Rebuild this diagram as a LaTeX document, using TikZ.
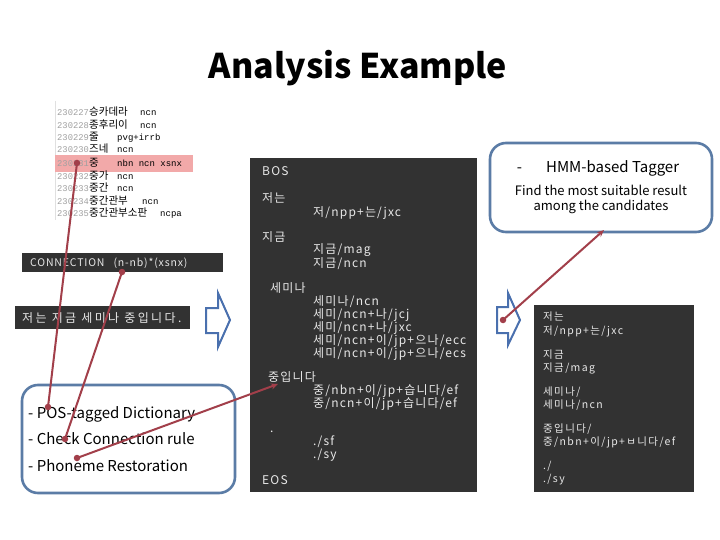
\documentclass[tikz,border=0pt]{standalone}
\usepackage{fontspec}
\setmainfont{Noto Sans CJK KR}
\newfontfamily\monofont{Liberation Mono}
\newfontfamily\widefont[LetterSpace=10]{Noto Sans CJK KR}
\newfontfamily\widerfont[LetterSpace=13]{Noto Sans CJK KR}
\newfontfamily\connfont[LetterSpace=8]{Noto Sans CJK KR}
\newfontfamily\sentfont[LetterSpace=20]{Noto Sans CJK KR}
\usetikzlibrary{arrows.meta}
\definecolor{darkbg}{HTML}{323232}
\definecolor{boxblue}{HTML}{5B7CA6}
\definecolor{arrowblue}{HTML}{4A70AE}
\definecolor{linkred}{HTML}{A23F4A}
\definecolor{hl}{HTML}{F2A9A9}
\definecolor{numgrey}{HTML}{A0A0A0}
\definecolor{codetext}{HTML}{E8E8E8}
\tikzset{
  darkpanel/.style={fill=darkbg, draw=none},
  code/.style={text=codetext, anchor=base west, inner sep=0pt, font=\widefont\fontsize{12}{13}\selectfont},
  codesm/.style={text=codetext, anchor=base west, inner sep=0pt, font=\widerfont\fontsize{10.5}{12}\selectfont},
  dnum/.style={text=numgrey, anchor=base west, inner sep=0pt, font=\monofont\fontsize{8.8}{10}\selectfont},
  dword/.style={text=black, anchor=base west, inner sep=0pt, font=\fontsize{10.5}{11}\selectfont},
  dtag/.style={text=black, anchor=base west, inner sep=0pt, font=\monofont\fontsize{9}{10}\selectfont},
  roundbox/.style={draw=boxblue, line width=2.6pt, rounded corners=16pt, fill=white},
  hollowarrow/.style={draw=arrowblue, line width=2pt, fill=white, line join=miter},
  link/.style={draw=linkred, line width=2pt},
  dot/.style={circle, fill=linkred, inner sep=0pt, minimum size=6.5pt},
  lbl/.style={anchor=base west, inner sep=0pt, font=\fontsize{15}{18}\selectfont},
}
\begin{document}
\begin{tikzpicture}[x=1pt,y=-1pt]
\useasboundingbox (0,0) rectangle (720,540);
\fill[white] (0,0) rectangle (720,540);

% title
\node[font=\bfseries\fontsize{34}{40}\selectfont, inner sep=0pt] (title) at (358,68) {Analysis Example};

% dictionary snippet
\draw[draw=black!12, line width=0.8pt] (55,101) -- (55,220);
\fill[hl] (55,155) rectangle (193,172);
\foreach \n/\w/\t/\tx/\y [count=\i] in {
  230227/승카데라/ncn/140/116,
  230228/종후리이/ncn/140/129,
  230229/줄/pvg+irrb/117/141,
  230230/즈네/ncn/117/153,
  230231/중/nbn ncn xsnx/117/167,
  230232/중가/ncn/117/180,
  230233/중간/ncn/117/192,
  230234/중간관부/ncn/142/205,
  230235/중간관부소판/ncpa/160/217}{
  \node[dnum] (dn\i) at (57,\y) {\n};
  \node[dword] (dw\i) at (89,\y) {\w};
  \node[dtag] (dt\i) at (\tx,\y) {\t};
}

% connection bar
\fill[darkpanel] (22,253) rectangle (223,272);
\node[text=codetext, anchor=base west, inner sep=0pt, font=\connfont\fontsize{10.5}{12}\selectfont] (conn) at (30,266.5) {CONNECTION\hspace{9pt}(n-nb)*(xsnx)};

% sentence bar
\fill[darkpanel] (15,306) rectangle (190,329);
\node[text=codetext, anchor=base west, inner sep=0pt, font=\sentfont\fontsize{12}{14}\selectfont] (sent) at (22,322) {저는 지금 세미나 중입니다.};

% hollow arrows
\draw[hollowarrow] (206,308) -- (218,308) -- (218,293) -- (230,320) -- (218,347) -- (218,333) -- (206,333) -- cycle;
\draw[hollowarrow] (497,307) -- (508,307) -- (508,293) -- (520,320) -- (508,345) -- (508,333) -- (497,333) -- cycle;

% middle panel
\fill[darkpanel] (250,158) rectangle (477,492);
\node[code] (m1) at (262,176) {BOS};
\node[code] (m2) at (262,203) {저는};
\node[code] (m3) at (313,216) {저/npp+는/jxc};
\node[code] (m4) at (262,241) {지금};
\node[code] (m5) at (313,254) {지금/mag};
\node[code] (m6) at (313,267) {지금/ncn};
\node[code] (m7) at (270,292) {세미나};
\node[code] (m8) at (313,305) {세미나/ncn};
\node[code] (m9) at (313,318) {세미/ncn+나/jcj};
\node[code] (m10) at (313,331) {세미/ncn+나/jxc};
\node[code] (m11) at (313,344) {세미/ncn+이/jp+으나/ecc};
\node[code] (m12) at (313,357) {세미/ncn+이/jp+으나/ecs};
\node[code] (m13) at (268,381) {중입니다};
\node[code] (m14) at (313,394) {중/nbn+이/jp+습니다/ef};
\node[code] (m15) at (313,407) {중/ncn+이/jp+습니다/ef};
\node[code] (m16) at (270,432) {.};
\node[code] (m17) at (313,445) {./sf};
\node[code] (m18) at (313,458) {./sy};
\node[code] (m19) at (262,484) {EOS};

% right panel
\fill[darkpanel] (534,305) rectangle (694,492);
\node[codesm] (r1) at (543,320) {저는};
\node[codesm] (r2) at (543,334) {저/npp+는/jxc};
\node[codesm] (r3) at (543,358) {지금};
\node[codesm] (r4) at (543,371) {지금/mag};
\node[codesm] (r5) at (543,395) {세미나/};
\node[codesm] (r6) at (543,408) {세미나/ncn};
\node[codesm] (r7) at (543,432) {중입니다/};
\node[codesm] (r8) at (543,445) {중/nbn+이/jp+ㅂ니다/ef};
\node[codesm] (r9) at (543,469) {./};
\node[codesm] (r10) at (543,482) {./sy};

% HMM box
\draw[roundbox] (490,143) rectangle (712,232);
\node[font=\fontsize{15}{18}\selectfont, inner sep=0pt] (hmm) at (598,168) {-\hspace{1.6em}HMM-based Tagger};
\node[font=\fontsize{13}{16}\selectfont, inner sep=0pt, align=center] (find) at (601,199) {Find the most suitable result\\[-1pt]among the candidates};

% bottom-left box
\draw[roundbox] (22,385) rectangle (235,493);
\node[lbl] (pos) at (28,418.5) {- POS-tagged Dictionary};
\node[lbl] (chk) at (28,444.5) {- Check Connection rule};
\node[lbl] (pho) at (28,471.5) {- Phoneme Restoration};

% connectors
\node[dot] (a1) at (77,163) {};
\node[dot] (b1) at (48,407) {};
\node[dot] (a2) at (122,272) {};
\node[dot] (b2) at (65,439) {};
\node[dot] (b3) at (77,458) {};
\coordinate (a3) at (278,384);
\node[dot] (b4) at (503,320) {};
\coordinate (a4) at (604,230);
\draw[link] (a1.center) -- (b1.center);
\draw[link] (a2.center) -- (b2.center);
\draw[link, -{Stealth[length=7pt,width=6pt]}] (b3.center) -- (a3);
\draw[link, -{Stealth[length=7pt,width=6pt]}] (b4.center) -- (a4);
\end{tikzpicture}
\end{document}
